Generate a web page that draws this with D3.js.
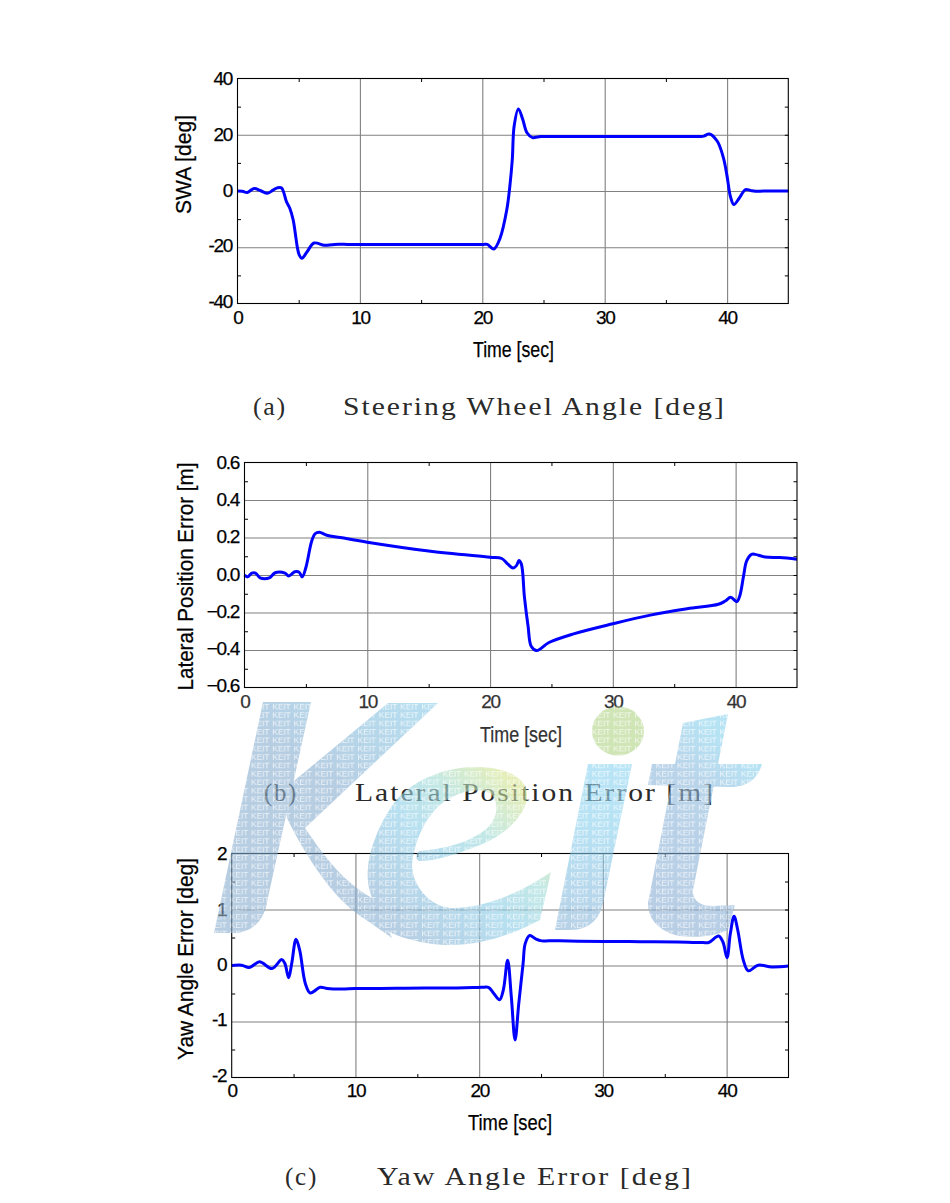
<!DOCTYPE html>
<html><head><meta charset="utf-8">
<script src="https://cdn.jsdelivr.net/npm/d3@7"></script>
<style>
html,body{margin:0;padding:0;background:#fff}
svg{display:block}
text{font-family:"Liberation Sans",Arial,sans-serif}
.cap{font-family:"Liberation Serif",serif;font-size:25px;letter-spacing:1.7px;fill:#2a2a2a}
</style></head><body>
<script>
// ---------- data ----------
const xTicks=[0,10,20,30,40];
const xMinor=[5,15,25,35];

const swaTime=[0,0.4,0.8,1.35,1.9,2.45,2.9,3.25,3.6,4,4.28,4.55,4.72,4.88,5.04,5.26,5.7,6.25,7.1,7.7,8.3,9,10,12,14,16,18,19,19.7,20.1,20.4,20.95,21.45,22,22.25,22.45,22.6,22.95,23.3,23.65,24.1,24.5,24.8,25.3,26,28,30,33,35,36.5,37.3,37.8,38.1,38.55,39.2,39.7,40,40.27,40.55,41,41.5,41.9,42.3,43,45];
const swa=[0,-0.1,-0.5,0.9,0.1,-0.8,0.3,1.1,1.1,-3.8,-6.2,-10.3,-15,-19.8,-22.7,-23.9,-21.5,-18.5,-19.3,-19.1,-18.9,-19,-19,-19,-19,-19,-19,-19,-19,-19,-19,-20.6,-16.8,-6.7,1.7,11.2,23,29.2,25.5,20.7,19,19.2,19.4,19.4,19.4,19.4,19.4,19.4,19.4,19.4,19.4,19.4,19.5,20.3,17.7,11.8,5.2,-1.9,-4.8,-2.5,0.5,0.2,-0.1,0,0];
const swaTicks=[-40,-20,0,20,40];
const swaMinor=[-30,-10,10,30];

const latTime=[0,0.25,0.6,0.9,1.27,2.03,2.5,3.3,3.6,4.1,4.45,4.7,5,5.47,5.75,6.1,6.7,7.8,10,15,20,20.95,21.45,21.87,22.15,22.35,22.55,22.8,23.1,23.35,23.8,24.8,26.8,30,33.05,36.05,38.6,39.15,39.6,40.1,40.35,40.65,40.9,41.3,41.6,42.4,43.6,45];
const latErr=[0,-0.01,0.01,0.01,-0.015,-0.015,0.012,0.01,-0.005,0.017,0.015,-0.01,0.04,0.18,0.22,0.228,0.212,0.2,0.175,0.128,0.095,0.088,0.058,0.037,0.05,0.077,0.058,-0.118,-0.275,-0.38,-0.403,-0.36,-0.314,-0.26,-0.214,-0.18,-0.156,-0.139,-0.119,-0.142,-0.109,-0.004,0.075,0.11,0.11,0.096,0.093,0.084];
const latTicks=[-0.6,-0.4,-0.2,0,0.2,0.4,0.6];
const latMinor=[-0.5,-0.3,-0.1,0.1,0.3,0.5];

const yawTime=[0,0.8,1.43,2.25,3.25,4.05,4.3,4.6,4.85,5.2,5.5,5.95,6.35,7.15,7.7,8.2,9,10,12,14,16,18,19.5,20.2,20.75,21.15,21.65,21.95,22.3,22.6,22.9,23.2,23.55,23.72,24.08,24.6,25.05,25.6,26.5,28,30.1,33,36,37.5,38.1,38.55,39.35,39.7,40.03,40.3,40.6,40.9,41.35,41.75,42.55,43.65,45];
const yawErr=[0,0.005,-0.035,0.065,-0.055,0.105,0.035,-0.22,0.035,0.47,0.27,-0.32,-0.49,-0.39,-0.41,-0.42,-0.42,-0.41,-0.41,-0.405,-0.4,-0.4,-0.395,-0.39,-0.39,-0.49,-0.61,-0.44,0.095,-0.56,-1.33,-0.68,0.035,0.39,0.535,0.47,0.44,0.44,0.44,0.435,0.43,0.425,0.42,0.41,0.41,0.41,0.525,0.42,0.14,0.57,0.88,0.63,0.095,-0.095,0.005,-0.025,-0.01];
const yawTicks=[-2,-1,0,1,2];
const yawMinor=[-1.5,-0.5,0.5,1.5];

const panels=[
 {t:swaTime,v:swa,dom:[-40,40],yT:swaTicks,yM:swaMinor,fmt:d=>String(d),
  x:[237.5,788.3],y:[303.5,78.5],yLabel:"SWA [deg]",yLx:191,yLc:164.5,yLw:99,
  xLb:357,xLc:513.5,xLw:81,tickY:323.5,axisFill:"#000",xFill:"#000",
  capA:"(a)",capAx:253,capAw:34,cap:"Steering Wheel Angle [deg]",capX:343,capW:383,capY:415},
 {t:latTime,v:latErr,dom:[-0.6,0.6],yT:latTicks,yM:latMinor,fmt:d=>d3.format(".1f")(d),
  x:[244.5,797],y:[687.5,462.5],yLabel:"Lateral Position Error [m]",yLx:192.5,yLc:576.5,yLw:228,
  xLb:742,xLc:521,xLw:82,tickY:708,axisFill:"#000",xFill:"#333",
  capA:"(b)",capAx:264,capAw:34,cap:"Lateral Position Error [m]",capX:355,capW:360,capY:801},
 {t:yawTime,v:yawErr,dom:[-2,2],yT:yawTicks,yM:yawMinor,fmt:d=>String(d),
  x:[231.7,788.5],y:[1077.5,853.5],yLabel:"Yaw Angle Error [deg]",yLx:192.5,yLc:959,yLw:202,
  xLb:1130,xLc:510,xLw:84,tickY:1097,axisFill:"#000",xFill:"#000",
  capA:"(c)",capAx:285,capAw:33,cap:"Yaw Angle Error [deg]",capX:377,capW:316,capY:1185}
];

// ---------- drawing ----------
const svg=d3.select("body").append("svg").attr("width",950).attr("height",1203);
svg.append("rect").attr("width",950).attr("height",1203).attr("fill","#fff");

panels.forEach(p=>{
  const x=d3.scaleLinear().domain([0,45]).range(p.x);
  const y=d3.scaleLinear().domain(p.dom).range(p.y);
  const g=svg.append("g");
  const W=p.x[1]-p.x[0],H=p.y[0]-p.y[1];

  // grid
  const gx=g.append("g").attr("transform",`translate(0,${p.y[0]})`)
    .call(d3.axisBottom(x).tickValues(xTicks.slice(1)).tickSize(-H).tickFormat(""));
  const gy=g.append("g").attr("transform",`translate(${p.x[0]},0)`)
    .call(d3.axisLeft(y).tickValues(p.yT.slice(1,-1)).tickSize(-W).tickFormat(""));
  [gx,gy].forEach(a=>{a.select(".domain").remove();a.selectAll("line").attr("stroke","#808080").attr("stroke-width",1.1);});

  // inward minor ticks on the four sides and inward major ticks on the right
  const mk=(axis,tx,ty)=>{const a=g.append("g").attr("transform",`translate(${tx},${ty})`).call(axis);
     a.select(".domain").remove();a.selectAll("line").attr("stroke","#000");};
  mk(d3.axisBottom(x).tickValues(xMinor).tickSize(-3.5).tickFormat(""),0,p.y[0]);
  mk(d3.axisTop(x).tickValues(xMinor).tickSize(-3.5).tickFormat(""),0,p.y[1]);
  mk(d3.axisLeft(y).tickValues(p.yM).tickSize(-3.5).tickFormat(""),p.x[0],0);
  mk(d3.axisRight(y).tickValues(p.yM).tickSize(-3.5).tickFormat(""),p.x[1],0);
  mk(d3.axisRight(y).tickValues(p.yT.slice(1,-1)).tickSize(-3.5).tickFormat(""),p.x[1],0);

  // curve
  const pts=p.t.map((t,i)=>[t,p.v[i]]);
  g.append("path").datum(pts).attr("fill","none").attr("stroke","#0000ff").attr("stroke-width",3)
    .attr("stroke-linejoin","round")
    .attr("d",d3.line().x(d=>x(d[0])).y(d=>y(d[1])).curve(d3.curveCatmullRom.alpha(0.5)));

  // frame
  g.append("rect").attr("x",p.x[0]).attr("y",p.y[1]).attr("width",W).attr("height",H)
    .attr("fill","none").attr("stroke","#000").attr("stroke-width",1.1);

  // tick labels, drawn by the axes
  const lx=g.append("g").attr("transform",`translate(0,${p.tickY-14})`)
    .call(d3.axisBottom(x).tickValues(xTicks).tickSize(0).tickPadding(0));
  lx.select(".domain").remove();
  lx.selectAll("text").attr("font-size",19).attr("letter-spacing",-1.3).attr("dy",null)
    .attr("y",14).attr("fill",p.xFill).attr("stroke",p.xFill).attr("stroke-width",.25)
    .style("font-family",'"Liberation Sans"');
  const ly=g.append("g").attr("transform",`translate(${p.x[0]-5.5},0)`)
    .call(d3.axisLeft(y).tickValues(p.yT).tickSize(0).tickPadding(0).tickFormat(p.fmt));
  ly.select(".domain").remove();
  ly.selectAll("text").attr("font-size",19).attr("letter-spacing",-1.3).attr("x",0)
    .attr("dy",null).attr("y",d=>{const f=(y(d)-p.y[1])/H;return 6.2-2.4*f;}).attr("fill",p.axisFill)
    .attr("stroke",p.axisFill).attr("stroke-width",.25)
    .style("font-family",'"Liberation Sans"');

  // axis titles
  g.append("text").attr("transform",`translate(${p.yLx},${p.yLc}) rotate(-90)`)
    .attr("text-anchor","middle").attr("font-size",22).attr("textLength",p.yLw)
    .attr("lengthAdjust","spacingAndGlyphs").attr("stroke","#000").attr("stroke-width",.25).text(p.yLabel);
  g.append("text").attr("x",p.xLc).attr("y",p.xLb).attr("text-anchor","middle")
    .attr("font-size",22).attr("textLength",p.xLw).attr("lengthAdjust","spacingAndGlyphs")
    .attr("fill",p.xFill).attr("stroke",p.xFill).attr("stroke-width",.25).text("Time [sec]");

  // captions
  g.append("text").attr("class","cap").attr("x",p.capAx).attr("y",p.capY)
    .attr("textLength",p.capAw).attr("lengthAdjust","spacingAndGlyphs").text(p.capA);
  g.append("text").attr("class","cap").attr("x",p.capX).attr("y",p.capY)
    .attr("textLength",p.capW).attr("lengthAdjust","spacingAndGlyphs").text(p.cap);
});

// ---------- watermark ----------
const defs=svg.append("defs");
const grad=(id,x1,y1,x2,y2,stops)=>{const g=defs.append("linearGradient").attr("id",id)
  .attr("gradientUnits","userSpaceOnUse").attr("x1",x1).attr("y1",y1).attr("x2",x2).attr("y2",y2);
  stops.forEach(s=>g.append("stop").attr("offset",s[0]).attr("stop-color",s[1]));};
grad("gK",300,900,440,700,[[0,"#86accf"],[.45,"#86accf"],[1,"#86cdea"]]);
grad("gE",370,900,500,770,[[0,"#86afd2"],[.45,"#88cce8"],[.7,"#9cdad6"],[1,"#d4e48a"]]);
grad("gI",600,930,620,760,[[0,"#88b4d8"],[.6,"#88d0ee"],[1,"#8ad4f2"]]);
grad("gT",650,900,760,770,[[0,"#8aaed4"],[.7,"#8cb8dc"],[1,"#86d2ee"]]);
const pat=defs.append("pattern").attr("id","keit").attr("patternUnits","userSpaceOnUse")
  .attr("width",21.3).attr("height",8.4).attr("patternTransform","translate(208,702)");
pat.append("text").attr("x",.5).attr("y",7.5).attr("font-size",8).attr("fill","#fff").attr("fill-opacity",.8)
  .attr("textLength",18.5).attr("lengthAdjust","spacingAndGlyphs").text("KEIT");

const shapes=[
 ["gK","M263,702L311,702L267,902C265,917 255,932 235,933L214,933Z"],
 ["gK","M388,703L438,703L305,828C320,850 340,880 372,898L392,938L355,912C330,893 305,855 287,818L283,790Z"],
 ["gE","M551,872L540,920C510,936 480,945 450,945C420,945 385,935 355,912L372,898C368,888 367,878 368,868C369,850 380,820 398,798C412,783 440,768 472,767C500,766 527,775 527,795C527,815 505,835 480,845C455,855 435,861 420,861C415,861 415,852 420,851C445,849 470,842 485,830C497,820 500,805 492,795C482,785 455,792 440,805C425,818 414,842 412,865C412,885 430,908 453,908C485,908 520,893 551,872Z"],
 ["gI","M588,764L632,764L603,903C600,918 590,930 570,930L555,930Z"],
 ["#b0d484",null],
 ["gT","M683,723L728,714L693,890C692,900 700,906 713,906L735,905L728,930C715,936 700,938 680,936C660,932 648,920 648,903Z"],
 ["gT","M652,764L762,764C758,778 748,787 730,787L648,785Z"]
];
const wm=svg.append("g").attr("opacity",.6);
const clip=defs.append("clipPath").attr("id","wmClip");
shapes.forEach(s=>{
  if(s[1]){
    wm.append("path").attr("d",s[1]).attr("fill",`url(#${s[0]})`);
    clip.append("path").attr("d",s[1]);
  }else{
    wm.append("ellipse").attr("cx",618).attr("cy",731).attr("rx",26).attr("ry",24.5).attr("fill",s[0]);
    clip.append("ellipse").attr("cx",618).attr("cy",731).attr("rx",26).attr("ry",24.5);
  }
});
wm.append("rect").attr("x",200).attr("y",700).attr("width",580).attr("height",250)
  .attr("fill","url(#keit)").attr("clip-path","url(#wmClip)");
</script>
</body></html>
